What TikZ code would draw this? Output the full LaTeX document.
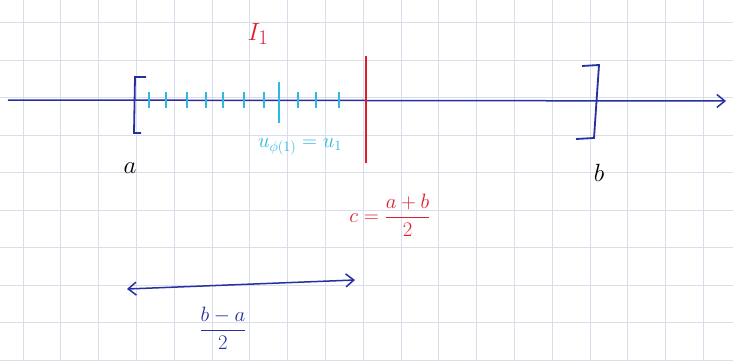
\documentclass[tikz,border=0pt]{standalone}
\usepackage{amsmath}
\usepackage{xcolor}
\usetikzlibrary{arrows.meta,positioning}

\definecolor{penblue}{RGB}{38,48,160}
\definecolor{penred}{RGB}{222,30,45}
\definecolor{pencyan}{RGB}{45,185,225}
\definecolor{gridgray}{RGB}{218,222,236}

\begin{document}
\begin{tikzpicture}[
  x=1pt, y=-1pt,
  font=\fontsize{28}{32}\selectfont,
  axis/.style={draw=penblue, line width=1.5pt},
  arrow/.style={-{Straight Barb[length=8pt,width=13pt]}, axis},
  bracket/.style={draw=penblue, line width=1.8pt},
  cut/.style={draw=penred, line width=1.8pt},
  tick/.style={draw=pencyan, line width=1.4pt},
  lbl/.style={inner sep=1pt}
]
% paper
\fill[white] (0,0) rectangle (733,361);
\useasboundingbox (0,0) rectangle (733,361);
\foreach \i in {0,...,18} \draw[gridgray, line width=0.8pt] (23+37.8*\i,0) -- (23+37.8*\i,361);
\foreach \j in {0,...,9} \draw[gridgray, line width=0.8pt] (0,22.5+37.5*\j) -- (733,22.5+37.5*\j);

% axis
\coordinate (left) at (8,100);
\coordinate (right) at (726,101);
\draw[arrow] (left) -- (right);

% end brackets
\draw[bracket] (146,77) -- (135,77) -- (134,133) -- (141,133);
\draw[bracket] (582,66) -- (599,65) -- (594,138) -- (576,139);
\node[lbl] (a) at (130,168) {$a$};
\node[lbl] (b) at (599,173) {$b$};

% subdivision ticks
\foreach \t in {149,166,187,206,223,244,264,298,316,339}
  \draw[tick] (\t,92) -- (\t,108);
\draw[tick] (279,82) -- (279,123);
\node[lbl, text=pencyan, font=\fontsize{20}{24}\selectfont] (uphi) at (300,147) {$u_{\phi(1)}=u_1$};

% midpoint
\node[lbl, text=penred] (I1) at (258,34) {$I_1$};
\coordinate (ctop) at (366,56);
\coordinate (cbot) at (366,163);
\draw[cut] (ctop) -- (cbot);
\node[lbl, text=penred, font=\fontsize{22}{26}\selectfont] (c) at (390,215) {$c=\dfrac{a+b}{2}$};

% half length
\coordinate (hl) at (127,289);
\coordinate (hr) at (355,280);
\draw[axis, {Straight Barb[length=8pt,width=13pt]}-{Straight Barb[length=8pt,width=13pt]}] (hl) -- (hr);
\node[lbl, text=penblue, font=\fontsize{22}{26}\selectfont] (half) at (223,328) {$\dfrac{b-a}{2}$};
\end{tikzpicture}
\end{document}
